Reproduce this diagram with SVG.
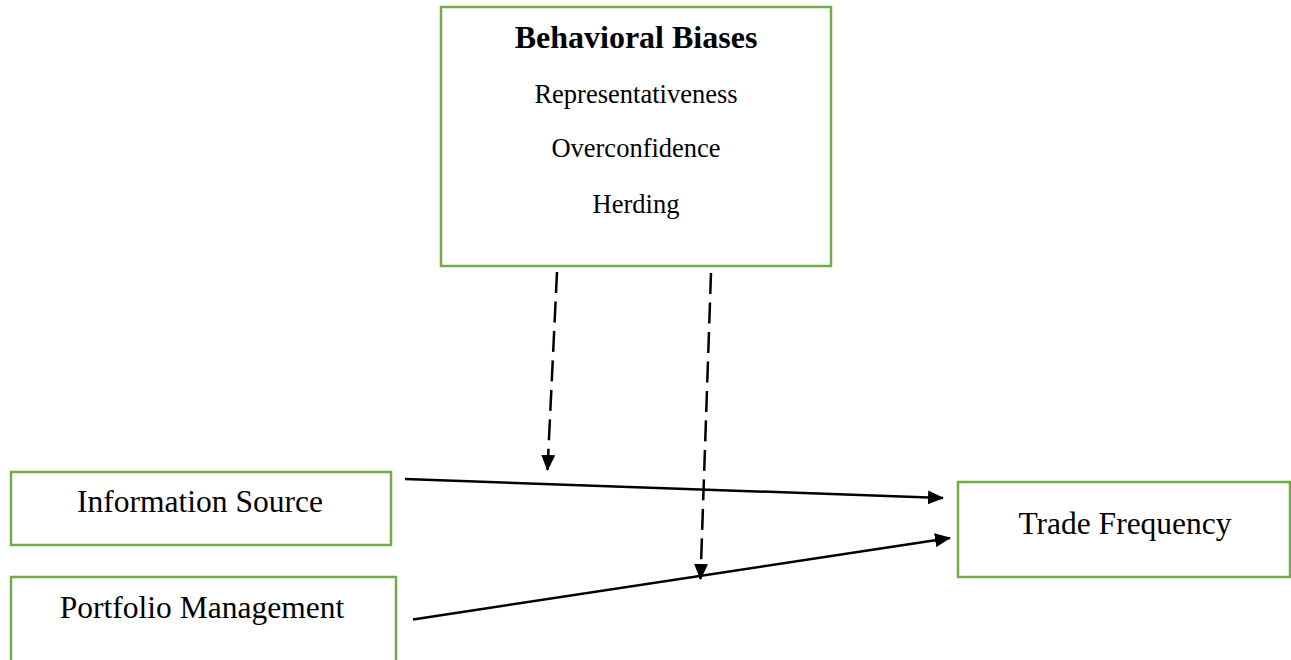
<svg xmlns="http://www.w3.org/2000/svg" width="1291" height="660" viewBox="0 0 1291 660">
<style>
.box{fill:#fff;stroke:#70AD47;stroke-width:2.5}
.t{font-family:"Liberation Serif","Times New Roman",serif;fill:#000;text-anchor:middle}
.conn{stroke:#000;stroke-width:2.5;fill:none;marker-end:url(#ah)}
.dash{stroke-dasharray:21 8.5}
</style>
<defs>
<marker id="ah" markerUnits="userSpaceOnUse" markerWidth="16" markerHeight="14" viewBox="0 0 16 14" refX="15" refY="7" orient="auto">
<path d="M0,0 L16,7 L0,14 z" fill="#000"/>
</marker>
</defs>
<rect width="1291" height="660" fill="#fff"/>
<g id="behavioral-biases">
<rect class="box" x="441" y="7" width="390" height="259"/>
<text class="t" x="636" y="48" font-size="32" font-weight="bold">Behavioral Biases</text>
<text class="t" x="636" y="103" font-size="26.5">Representativeness</text>
<text class="t" x="636" y="157" font-size="26.5">Overconfidence</text>
<text class="t" x="636" y="213" font-size="26.5">Herding</text>
</g>
<g id="information-source">
<rect class="box" x="11" y="472" width="380" height="73"/>
<text class="t" x="200" y="512" font-size="31.5">Information Source</text>
</g>
<g id="portfolio-management">
<rect class="box" x="11" y="577" width="385" height="90"/>
<text class="t" x="202" y="618" font-size="31.5">Portfolio Management</text>
</g>
<g id="trade-frequency">
<rect class="box" x="958" y="482" width="332" height="95"/>
<text class="t" x="1125" y="534" font-size="31.5">Trade Frequency</text>
</g>
<g id="connectors">
<line class="conn" x1="405" y1="479" x2="943" y2="498"/>
<line class="conn" x1="413" y1="619.5" x2="950" y2="538"/>
<line class="conn dash" x1="557" y1="272" x2="547.5" y2="470"/>
<line class="conn dash" x1="711" y1="273" x2="700.5" y2="579"/>
</g>
</svg>
